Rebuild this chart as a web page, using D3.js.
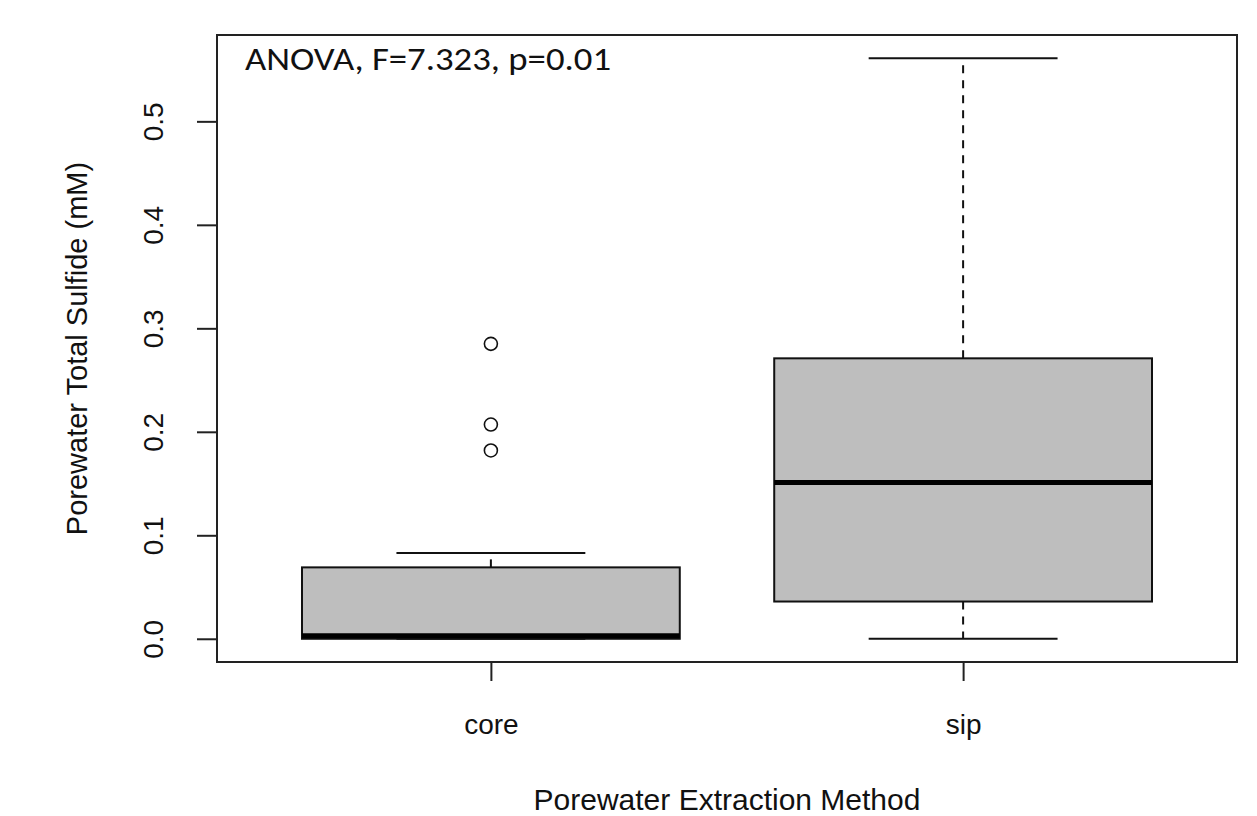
<!DOCTYPE html>
<html>
<head>
<meta charset="utf-8">
<script src="https://d3js.org/d3.v7.min.js"></script>
<style>
  body { margin: 0; background: #fff; }
  text { font-family: "Liberation Sans", Arial, sans-serif; fill: #111; }
</style>
</head>
<body>
<div id="my_dataviz"></div>
<script>
// data
var categories = ["core", "sip"];
var whiskerLow = [0.0, 0.0];
var q1 = [0.0, 0.036];
var medians = [0.003, 0.151];
var q3 = [0.069, 0.271];
var whiskerHigh = [0.083, 0.561];
var outliers = [[0.182, 0.207, 0.285], []];
var yTicks = [0.0, 0.1, 0.2, 0.3, 0.4, 0.5];
var annotation = "ANOVA, F=7.323, p=0.01";

// set the dimensions and margins of the graph
var margin = {top: 35, right: 20, bottom: 154, left: 217},
    width = 1257 - margin.left - margin.right,
    height = 816 - margin.top - margin.bottom;

var svg = d3.select("#my_dataviz")
  .append("svg")
    .attr("width", width + margin.left + margin.right)
    .attr("height", height + margin.top + margin.bottom)
  .append("g")
    .attr("transform", "translate(" + margin.left + "," + margin.top + ")");

var rows = categories.map(function(c, i) {
  return {name: c, pos: i + 1, lo: whiskerLow[i], q1: q1[i], med: medians[i],
          q3: q3[i], hi: whiskerHigh[i], out: outliers[i]};
});

// R style axis limits: 4% extension
var yMin = d3.min(rows, function(d) { return d3.min([d.lo].concat(d.out)); });
var yMax = d3.max(rows, function(d) { return d3.max([d.hi].concat(d.out)); });
var yPad = (yMax - yMin) * 0.04;
var y = d3.scaleLinear()
  .domain([yMin - yPad, yMax + yPad])
  .range([height, 0]);

var xPad = categories.length * 0.04;
var x = d3.scaleLinear()
  .domain([0.5 - xPad, categories.length + 0.5 + xPad])
  .range([0, width]);

var boxW = x(0.8) - x(0);

// Y axis
var yAxis = svg.append("g")
  .call(d3.axisLeft(y).tickValues(yTicks).tickSize(20).tickFormat(d3.format(".1f")));
yAxis.select(".domain").remove();
yAxis.selectAll(".tick line").attr("stroke", "#222").attr("stroke-width", 2);
yAxis.selectAll(".tick text")
  .attr("x", null).attr("dy", null)
  .attr("text-anchor", "middle")
  .attr("transform", "translate(-54,0) rotate(-90)")
  .style("font-size", "28px")
  .style("font-family", "Liberation Sans, Arial, sans-serif")
  .attr("fill", "#111");

// X axis
var xAxis = svg.append("g")
  .attr("transform", "translate(0," + height + ")")
  .call(d3.axisBottom(x).tickValues(rows.map(function(d) { return d.pos; }))
    .tickSize(19).tickFormat(function(d) { return categories[d - 1]; }));
xAxis.select(".domain").remove();
xAxis.selectAll(".tick line").attr("stroke", "#222").attr("stroke-width", 2);
xAxis.selectAll(".tick text")
  .attr("y", 72).attr("dy", null)
  .style("font-size", "28px")
  .style("font-family", "Liberation Sans, Arial, sans-serif")
  .attr("fill", "#111");

// Axis titles
svg.append("text")
  .attr("text-anchor", "middle")
  .attr("x", width / 2)
  .attr("y", height + 148)
  .style("font-size", "30px")
  .text("Porewater Extraction Method");

svg.append("text")
  .attr("text-anchor", "middle")
  .attr("transform", "translate(" + (-130) + "," + (height / 2) + ") rotate(-90)")
  .style("font-size", "29px")
  .text("Porewater Total Sulfide (mM)");

// whiskers (dashed)
var boxes = svg.selectAll("g.box")
  .data(rows)
  .enter()
  .append("g")
    .attr("class", "box");

boxes.append("line")
  .attr("x1", function(d) { return x(d.pos); })
  .attr("x2", function(d) { return x(d.pos); })
  .attr("y1", function(d) { return y(d.q3); })
  .attr("y2", function(d) { return y(d.hi); })
  .attr("stroke", "#111").attr("stroke-width", 2)
  .attr("stroke-dasharray", "8,7");

boxes.append("line")
  .attr("x1", function(d) { return x(d.pos); })
  .attr("x2", function(d) { return x(d.pos); })
  .attr("y1", function(d) { return y(d.q1); })
  .attr("y2", function(d) { return y(d.lo); })
  .attr("stroke", "#111").attr("stroke-width", 2)
  .attr("stroke-dasharray", "8,7");

// staples
["lo", "hi"].forEach(function(k) {
  boxes.append("line")
    .attr("x1", function(d) { return x(d.pos) - boxW / 4; })
    .attr("x2", function(d) { return x(d.pos) + boxW / 4; })
    .attr("y1", function(d) { return y(d[k]); })
    .attr("y2", function(d) { return y(d[k]); })
    .attr("stroke", "#111").attr("stroke-width", 2);
});

// boxes
boxes.append("rect")
  .attr("x", function(d) { return x(d.pos) - boxW / 2; })
  .attr("width", boxW)
  .attr("y", function(d) { return y(d.q3); })
  .attr("height", function(d) { return y(d.q1) - y(d.q3); })
  .attr("fill", "#bebebe")
  .attr("stroke", "#111")
  .attr("stroke-width", 2);

// medians
boxes.append("line")
  .attr("x1", function(d) { return x(d.pos) - boxW / 2; })
  .attr("x2", function(d) { return x(d.pos) + boxW / 2; })
  .attr("y1", function(d) { return y(d.med); })
  .attr("y2", function(d) { return y(d.med); })
  .attr("stroke", "#000")
  .attr("stroke-width", 5);

// outliers
boxes.selectAll("circle")
  .data(function(d) { return d.out.map(function(v) { return {pos: d.pos, v: v}; }); })
  .enter()
  .append("circle")
    .attr("cx", function(d) { return x(d.pos); })
    .attr("cy", function(d) { return y(d.v); })
    .attr("r", 6.5)
    .attr("fill", "none")
    .attr("stroke", "#111")
    .attr("stroke-width", 1.6);

// plot frame
svg.append("rect")
  .attr("x", 0).attr("y", 0)
  .attr("width", width).attr("height", height)
  .attr("fill", "none")
  .attr("stroke", "#222")
  .attr("stroke-width", 2);

// annotation
svg.append("text")
  .attr("x", 28)
  .attr("y", 35)
  .attr("textLength", 366)
  .attr("lengthAdjust", "spacingAndGlyphs")
  .style("font-family", "Carlito, Lato, 'Open Sans', sans-serif")
  .style("font-size", "33px")
  .attr("fill", "#000")
  .text(annotation);
</script>
</body>
</html>
